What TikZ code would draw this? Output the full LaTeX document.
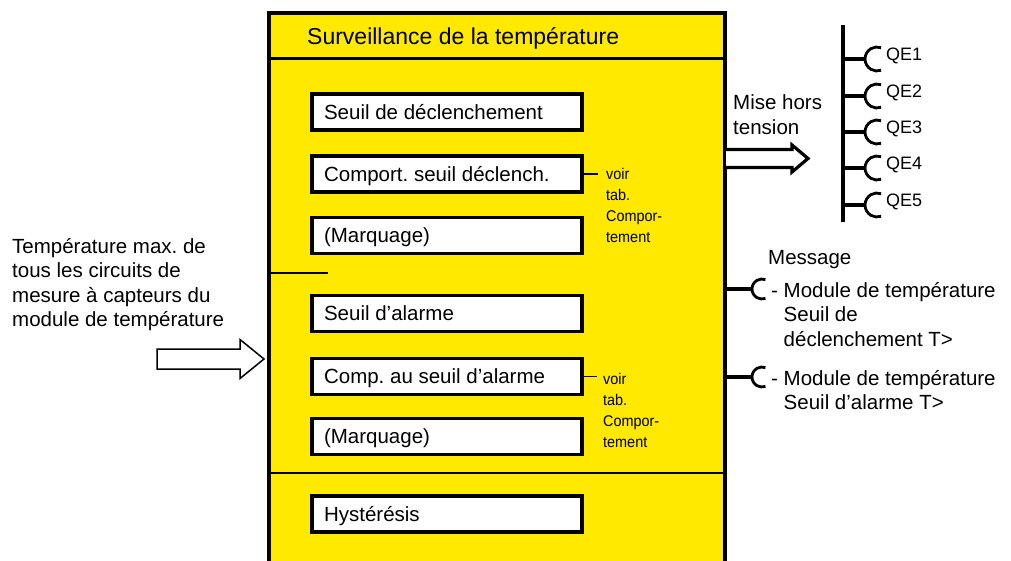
\documentclass[tikz,border=0pt]{standalone}
\usepackage{fontspec}
\setmainfont{Liberation Sans}
\newfontfamily\narrowsans[FakeStretch=0.93]{Liberation Sans}
\definecolor{panelyellow}{RGB}{255,233,0}
\newcommand\fieldtext[1]{\makebox[246pt][l]{#1}}

\begin{document}
\frenchspacing
\begin{tikzpicture}[x=1pt,y=-1pt,
  txt/.style={font=\fontsize{20.5}{24.5}\selectfont, inner sep=0pt, align=left},
  small/.style={font=\narrowsans\fontsize{15.5}{21}\selectfont, inner sep=0pt, align=left},
  field/.style={draw=black, line width=3.3pt, fill=white, anchor=west,
    minimum width=270pt, minimum height=36pt, inner xsep=12pt, inner ysep=0pt,
    font=\fontsize{20.5}{24.5}\selectfont,
    text height=18.5pt, text depth=3.7pt},
  wire/.style={line width=3.2pt},
  thin/.style={line width=1.5pt},
  plug/.style={line width=2.8pt}]

\useasboundingbox (0,0) rectangle (1011,561);

% yellow panel, open at the bottom
\fill[panelyellow] (269,13) rectangle (725,575);
\draw[line width=3.4pt] (269,575) -- (269,13) -- (725,13) -- (725,575);
\draw[line width=3pt] (269,59) -- (725,59);
\draw[line width=2pt] (269,473) -- (725,473);
\draw[thin] (269,273) -- (328,273);

\node[font=\fontsize{23}{27}\selectfont, inner sep=0pt, anchor=base west] (title)
  at (307,45) {Surveillance de la température};

% parameter fields
\node[field] (f1) at (310.4,112) {\fieldtext{Seuil de déclenchement}};
\node[field] (f2) at (310.4,174) {\fieldtext{Comport. seuil déclench.}};
\node[field] (f3) at (310.4,235.5) {\fieldtext{(Marquage)}};
\node[field] (f4) at (310.4,313.5) {\fieldtext{Seuil d’alarme}};
\node[field] (f5) at (310.4,376.5) {\fieldtext{Comp. au seuil d’alarme}};
\node[field] (f6) at (310.4,436.5) {\fieldtext{(Marquage)}};
\node[field] (f7) at (310.4,514) {\fieldtext{Hystérésis}};

% references to the behaviour table (base anchor = last line)
\coordinate (r1) at (598,174);
\coordinate (r2) at (597,376.5);
\draw[thin] (f2.east) -- (r1);
\draw[thin] (f5.east) -- (r2);
\node[small, anchor=base west] (n1) at (606,243) {voir\\tab.\\Compor-\\tement};
\node[small, anchor=base west] (n2) at (603,447) {voir\\tab.\\Compor-\\tement};

% input
\node[txt, anchor=base west] (input) at (12,326.5)
  {Température max. de\\tous les circuits de\\mesure à capteurs du\\module de température};
\draw[thin, fill=white] (157,349) -- (240,349) -- (240,339.5) -- (264,359)
  -- (240,378.5) -- (240,369) -- (157,369) -- cycle;

% trip output
\node[txt, anchor=base west] (trip) at (733,134.5) {Mise hors\\tension};
\draw[wire, fill=white] (726,149.5) -- (792,149.5) -- (792,145) -- (808,158.5)
  -- (792,172) -- (792,167.5) -- (726,167.5);

% circuit breakers
\coordinate (busT) at (843,25);
\coordinate (busB) at (843,222);
\draw[wire] (busT) -- (busB);
\foreach \k/\y in {1/59,2/96,3/132,4/168,5/205}{
  \coordinate (q\k) at (843,\y);
  \coordinate (s\k) at (865,\y);
  \draw[wire] (q\k) -- (s\k);
  \draw[plug] (s\k) arc[start angle=180, end angle=70, radius=12];
  \draw[plug] (s\k) arc[start angle=180, end angle=290, radius=12];
  \node[font=\fontsize{18}{20}\selectfont, inner sep=0pt, anchor=west] (qe\k)
    at (886,\y-3) {QE\k};
}

% messages
\node[txt, anchor=base west] (msg) at (768,265) {Message};
\coordinate (m1) at (725,289);
\coordinate (p1) at (752,289);
\coordinate (m2) at (725,377);
\coordinate (p2) at (752,377);
\draw[wire] (m1) -- (p1);
\draw[wire] (m2) -- (p2);
\foreach \p in {p1,p2}{
  \draw[plug] (\p) arc[start angle=180, end angle=70, radius=10];
  \draw[plug] (\p) arc[start angle=180, end angle=290, radius=10];
}
\node[txt, anchor=base west] (msg1) at (771,346)
  {- Module de température\\\phantom{- }Seuil de\\\phantom{- }déclenchement T>};
\node[txt, anchor=base west] (msg2) at (771,409.5)
  {- Module de température\\\phantom{- }Seuil d’alarme T>};

\end{tikzpicture}
\end{document}
